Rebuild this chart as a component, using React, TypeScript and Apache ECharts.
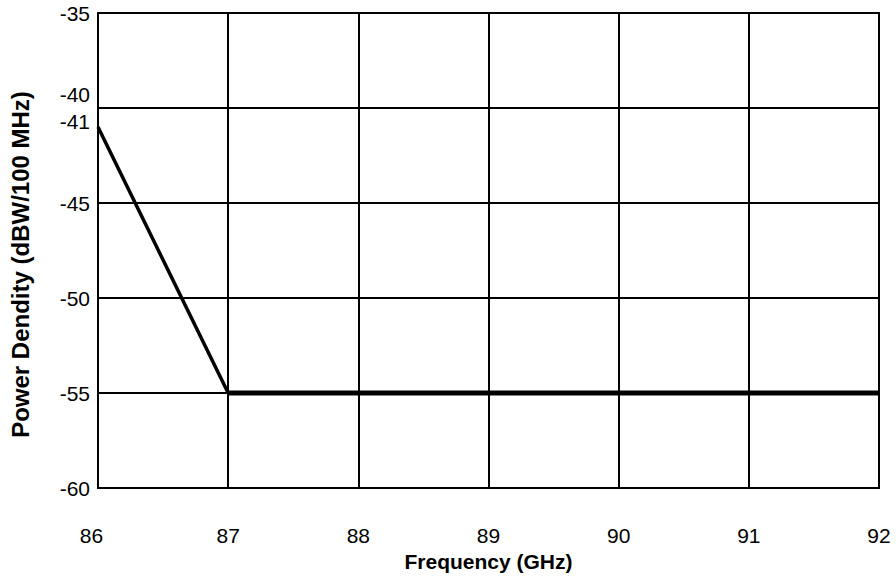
import React, { useEffect, useRef } from "react";
import * as echarts from "echarts";

const frequencies = [86, 87, 92];
const powerDensity = [-41, -55, -55];
const yLabelValues = [-60, -55, -50, -45, -40, -41, -35];
const xTitle = "Frequency (GHz)";
const yTitle = "Power Dendity (dBW/100 MHz)";

export default function App() {
  const ref = useRef<HTMLDivElement>(null);
  useEffect(() => {
    if (!ref.current) return;
    const chart = echarts.init(ref.current, null, { renderer: "svg" });
    const font = "Liberation Sans, Arial, sans-serif";
    const slope = [0, 1].map((i) => [frequencies[i], powerDensity[i]]);
    const flat = [1, 2].map((i) => [frequencies[i], powerDensity[i]]);
    chart.setOption({
      animation: false,
      backgroundColor: "#fff",
      textStyle: { fontFamily: font },
      grid: {
        left: 98,
        right: 17,
        top: 13,
        bottom: 95,
        show: true,
        borderColor: "#000",
        borderWidth: 2,
        containLabel: false,
      },
      xAxis: {
        type: "value",
        min: 86,
        max: 92,
        interval: 1,
        name: xTitle,
        nameLocation: "middle",
        nameGap: 61,
        nameTextStyle: { fontFamily: font, fontSize: 21, fontWeight: "bold", color: "#000" },
        axisLine: { show: true, lineStyle: { color: "#000", width: 2 } },
        axisTick: { show: false },
        splitLine: { show: true, lineStyle: { color: "#000", width: 2 } },
        axisLabel: {
          margin: 37,
          fontFamily: font,
          fontSize: 21,
          color: "#000",
          formatter: (v: number) => (v === 86 ? "{l|86}" : String(v)),
          rich: {
            l: { fontFamily: font, fontSize: 21, color: "#000", padding: [0, 13, 0, 0] },
          },
        },
      },
      yAxis: {
        type: "value",
        min: -60,
        max: -35,
        interval: 5,
        name: yTitle,
        nameLocation: "middle",
        nameGap: 66,
        nameTextStyle: {
          fontFamily: font,
          fontSize: 24,
          fontWeight: "bold",
          color: "#000",
          padding: [0, 28, 0, 0],
        },
        axisLine: { show: true, lineStyle: { color: "#000", width: 2 } },
        axisTick: { show: false },
        splitLine: { show: true, lineStyle: { color: "#000", width: 2 } },
        axisLabel: {
          margin: 8,
          fontFamily: font,
          fontSize: 21,
          color: "#000",
          customValues: yLabelValues,
          formatter: (v: number) =>
            v === -40 ? "{t|-40}\n{s1| }" : v === -41 ? "{t|-41}\n{s2| }" : String(v),
          rich: {
            t: { fontFamily: font, fontSize: 21, color: "#000", lineHeight: 21 },
            s1: { fontSize: 1, lineHeight: 28 },
            s2: { fontSize: 1, lineHeight: 11 },
          },
        },
      },
      series: [
        {
          type: "line",
          data: slope,
          showSymbol: false,
          symbol: "none",
          lineStyle: { color: "#000", width: 3.5 },
        },
        {
          type: "line",
          data: flat,
          showSymbol: false,
          symbol: "none",
          lineStyle: { color: "#000", width: 5 },
        },
      ],
    });
    return () => chart.dispose();
  }, []);
  return (
    <div
      ref={ref}
      style={{ position: "fixed", left: 0, top: 0, width: 896, height: 583, background: "#fff" }}
    />
  );
}
